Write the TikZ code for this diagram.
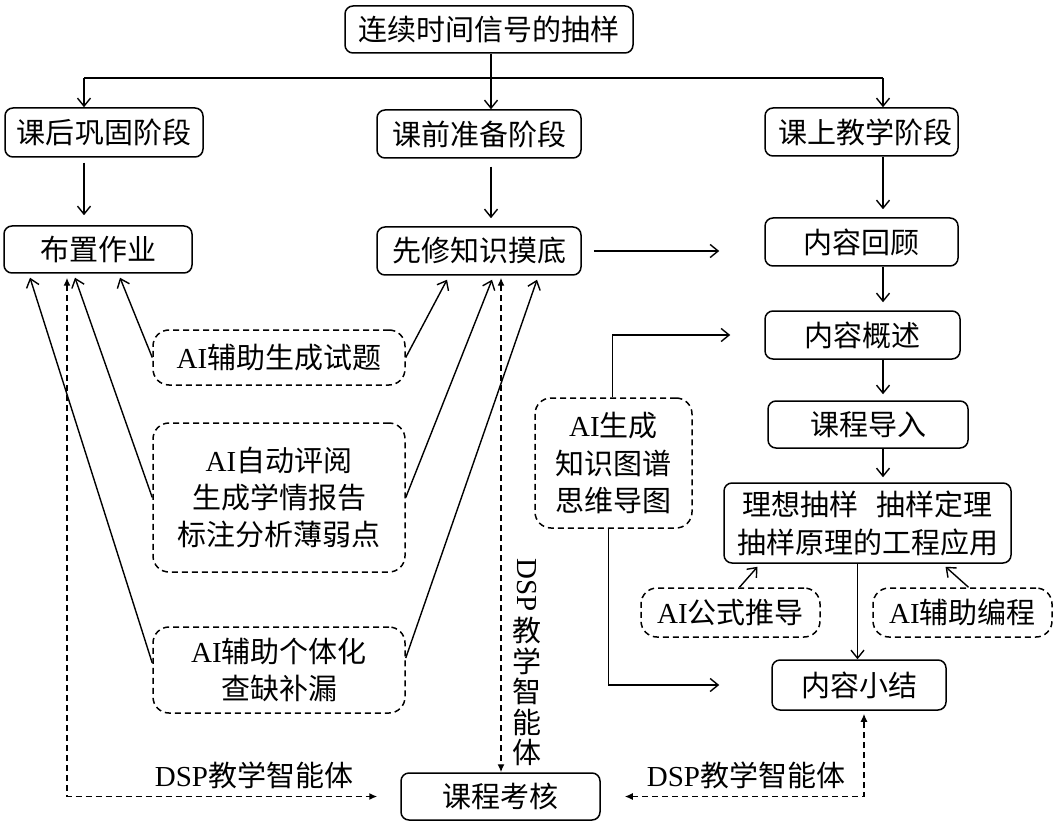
\documentclass[tikz,border=0pt]{standalone}
\usepackage{fontspec}
\setmainfont{Noto Sans CJK SC}
\newfontfamily\tnr{Liberation Serif}
\usetikzlibrary{arrows.meta,calc}
\newcommand\AIx{{\tnr AI}}
\newcommand\DSPx{{\tnr DSP}}
\begin{document}
\begin{tikzpicture}[x=0.5pt,y=-0.5pt,
  font=\fontsize{14.5}{18.3}\selectfont,
  box/.style={draw, line width=0.75pt, rounded corners=4pt, inner sep=0pt, align=center},
  aibox/.style={draw, line width=0.75pt, rounded corners=8pt, dash pattern=on 3pt off 2pt, inner sep=0pt, align=center},
  conn/.style={line width=0.7pt, -{Straight Barb[length=4pt,width=6.5pt]}},
  dsh/.style={line width=0.7pt, dash pattern=on 3pt off 2pt, {Latex[length=4pt,width=3.5pt]}-{Latex[length=4pt,width=3.5pt]}},
  lbl/.style={inner sep=0pt, align=center}
]
\useasboundingbox (0,0) rectangle (1063,828);
% main boxes
\node[box, minimum width=144pt, minimum height=23.5pt] (top) at (489,29.5) {连续时间信号的抽样};
\node[box, minimum width=99pt, minimum height=24.5pt] (hou) at (104,132.5) {课后巩固阶段};
\node[box, minimum width=102pt, minimum height=24pt] (qian) at (479,134) {课前准备阶段};
\node[box, minimum width=96.5pt, minimum height=24pt] (shang) at (861.5,132) {\hspace{4pt}课上教学阶段};
\node[box, minimum width=94pt, minimum height=23.5pt] (bz) at (98,249.5) {布置作业};
\node[box, minimum width=102pt, minimum height=24pt] (xx) at (479,251) {先修知识摸底};
\node[box, minimum width=96.5pt, minimum height=24pt] (hg) at (861.5,242) {内容回顾};
\node[box, minimum width=97.5pt, minimum height=24pt] (gs) at (862.5,335) {内容概述};
\node[box, minimum width=100pt, minimum height=23.5pt] (dr) at (868,424.5) {课程导入};
\node[box, minimum width=143.5pt, minimum height=40pt, font=\fontsize{14.5}{19}\selectfont] (lx) at (867.5,523) {理想抽样\hspace{0.6em}抽样定理\\抽样原理的工程应用};
\node[box, minimum width=87pt, minimum height=25pt] (xj) at (859,685) {内容小结};
\node[box, minimum width=99.5pt, minimum height=23.5pt] (kh) at (500.5,796.5) {课程考核};
% AI boxes
\node[aibox, minimum width=89.5pt, minimum height=24.5pt] (gsd) at (730.5,612.5) {\AIx 公式推导};
\node[aibox, minimum width=89.5pt, minimum height=24.5pt] (bc) at (962.5,612.5) {\AIx 辅助编程};
\node[aibox, minimum width=126pt, minimum height=27.5pt] (st) at (279,357.5) {\AIx 辅助生成试题};
\node[aibox, minimum width=126pt, minimum height=74.5pt] (py) at (279,497.5) {\AIx 自动评阅\\生成学情报告\\标注分析薄弱点};
\node[aibox, minimum width=126pt, minimum height=43pt] (gt) at (279,670) {\AIx 辅助个体化\\查缺补漏};
\node[aibox, minimum width=78.5pt, minimum height=65pt, font=\fontsize{14.5}{18.8}\selectfont] (tp) at (613.5,463) {\AIx 生成\\知识图谱\\思维导图};
% labels
\node[lbl] (lblL) at (254,775) {\DSPx 教学智能体};
\node[lbl] (lblR) at (746,775) {\DSPx 教学智能体};
\node[lbl, font=\fontsize{14.5}{15.2}\selectfont] (lblV) at (527,662) {\rotatebox{-90}{\DSPx}\\[2pt]教\\学\\智\\能\\体};
% top distribution
\coordinate (jL) at (84,78);
\coordinate (jR) at (883,78);
\coordinate (jM) at (491,78);
\draw[line width=0.7pt] (jM |- top.south) -- (jM);
\draw[line width=0.7pt] (jL) -- (jR);
\draw[conn] (jL) -- (hou.north -| jL);
\draw[conn] (jM) -- (qian.north -| jM);
\draw[conn] (jR) -- (shang.north -| jR);
% left / middle columns
\draw[conn, shorten <=2.5pt, shorten >=5pt] (hou.south -| jL) -- (bz.north -| jL);
\draw[conn, shorten <=4pt, shorten >=4pt] (qian.south -| jM) -- (xx.north -| jM);
% right column
\draw[conn, shorten >=4pt] (shang.south -| jR) -- (hg.north -| jR);
\draw[conn, shorten >=4pt] (hg.south -| jR) -- (gs.north -| jR);
\draw[conn, shorten >=3pt] (gs.south -| jR) -- (dr.north -| jR);
\draw[conn, shorten >=2.5pt] (dr.south -| jR) -- (lx.north -| jR);
\coordinate (l1) at ([xshift=-5pt]lx.south);
\draw[conn] (l1) -- (l1 |- xj.north);
\draw[conn] ([xshift=4.5pt]gsd.north) -- ([xshift=-55pt,yshift=-1.5pt]lx.south);
\draw[conn] ([xshift=3pt]bc.north) -- ([xshift=39pt,yshift=-1.5pt]lx.south);
% xx -> hg
\coordinate (h1) at (xx.east -| hg.west);
\draw[conn] ([xshift=6pt]xx.east) -- ([xshift=-22.5pt]h1);
% tp -> gs, xj
\coordinate (t1) at ([xshift=-17pt]gs.west);
\coordinate (t2) at ([xshift=-26pt]xj.west);
\draw[conn] ([xshift=-0.5pt]tp.north) |- (t1);
\draw[conn] ([xshift=-2.5pt]tp.south) |- (t2);
% AI boxes -> bz, xx
\draw[conn] (st.west) -- ([xshift=11pt,yshift=-2pt]bz.south);
\draw[conn] (py.west) -- ([xshift=-11.5pt,yshift=-2pt]bz.south);
\draw[conn] ([yshift=3.5pt]gt.west) -- ([xshift=-34pt,yshift=-2pt]bz.south);
\draw[conn] (st.east) -- ([xshift=-16pt,yshift=-2pt]xx.south);
\draw[conn] (py.east) -- ([xshift=6.5pt,yshift=-2pt]xx.south);
\draw[conn] ([yshift=6pt]gt.east) -- ([xshift=29pt,yshift=-2pt]xx.south);
% dashed agent links
\draw[dsh] ([xshift=-15.5pt,yshift=-2pt]bz.south) |- ([xshift=-11.5pt]kh.west);
\draw[dsh] ([xshift=12pt]kh.east) -| ([xshift=2.5pt,yshift=-1.5pt]xj.south);
\coordinate (m1) at ([xshift=11pt,yshift=-1pt]xx.south);
\draw[dsh] (m1) -- (m1 |- kh.north);
\end{tikzpicture}
\end{document}
